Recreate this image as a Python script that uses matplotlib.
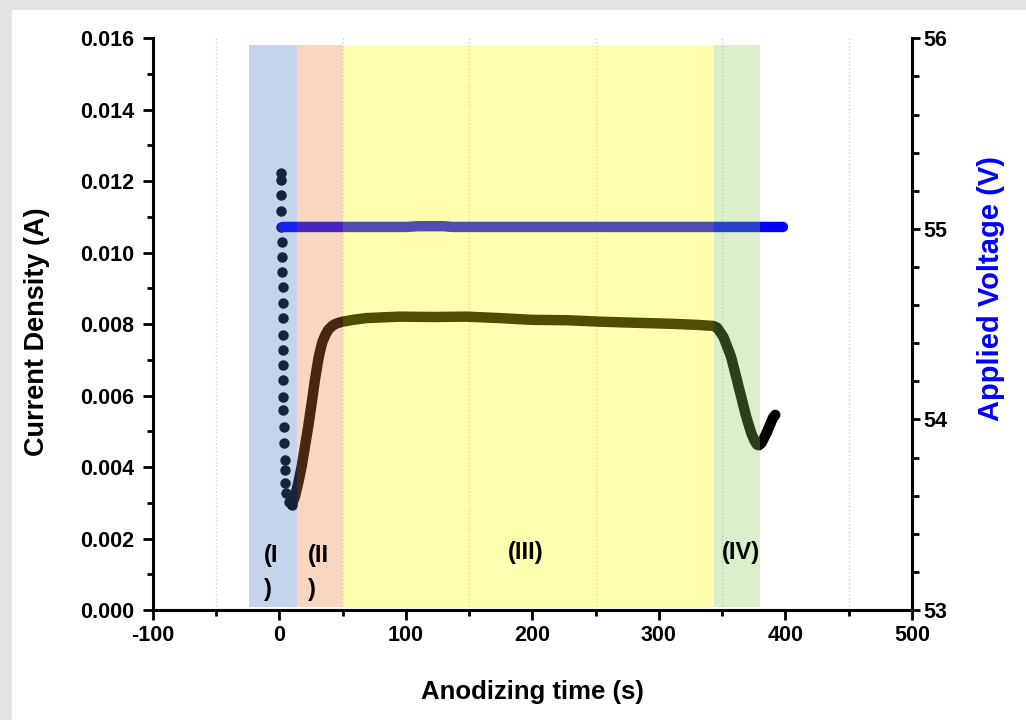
import numpy as np
import matplotlib.pyplot as plt
from matplotlib.patches import Rectangle
from matplotlib.ticker import MultipleLocator


# current density, first fast drop (separate dots)
t_drop = [1.1, 1.1, 1.3, 1.3, 1.7, 2.0, 2.0, 2.3, 2.7, 2.7, 2.9, 2.9, 2.9,
          2.9, 3.0, 3.0, 3.2, 3.5, 4.0, 4.2, 4.8, 4.2, 5.6, 7.4, 10.0]
i_drop = [0.01222, 0.01203, 0.01161, 0.01117, 0.01073, 0.01031, 0.00989,
          0.00947, 0.00905, 0.00858, 0.00816, 0.00770, 0.00728, 0.00686,
          0.00644, 0.00597, 0.00560, 0.00513, 0.00467, 0.00420, 0.00392,
          0.00355, 0.00327, 0.00303, 0.00294]

# current density, rest of the run
t_cur = [10.0, 12.4, 15.0, 17.7, 20.3, 22.9, 25.6, 28.2, 30.8, 32.5, 34.2,
         36.5, 38.7, 41.5, 44.0, 47.0, 50.5, 58, 69, 82, 95, 122, 148, 174,
         200, 227, 253, 280, 310, 330, 343, 346, 348, 351, 353, 357, 361,
         365, 369, 373, 375.5, 377.4, 379, 381, 385, 390, 392]
i_cur = [0.00294, 0.00317, 0.00355, 0.00401, 0.00457, 0.00513, 0.00578,
         0.00644, 0.00700, 0.00728, 0.00751, 0.00770, 0.00784, 0.00794,
         0.00800, 0.00804, 0.00807, 0.00812, 0.00817, 0.00819, 0.00821,
         0.00820, 0.00821, 0.00817, 0.00812, 0.00811, 0.00807, 0.00804,
         0.00801, 0.00798, 0.00795, 0.00790, 0.00780, 0.00764, 0.00746,
         0.00709, 0.00653, 0.00597, 0.00541, 0.00495, 0.00474, 0.00463,
         0.00461, 0.00467, 0.00495, 0.00537, 0.00546]

# applied voltage
t_volt = [3, 20, 40, 60, 80, 100, 110, 120, 130, 137, 150, 175, 200, 225,
          250, 275, 300, 325, 350, 375, 398]
v_volt = [55.01, 55.01, 55.01, 55.01, 55.01, 55.01, 55.014, 55.014, 55.014,
          55.01, 55.01, 55.01, 55.01, 55.01, 55.01, 55.01, 55.01, 55.01,
          55.01, 55.01, 55.01]

# stages
stage_start = [-23.7, 13.7, 50.0, 343.2]
stage_end = [13.7, 50.0, 343.2, 379.5]
stage_col = ['#4472C4', '#ED7D31', '#FFFF00', '#8ECE5E']
stage_txt = ['(I\n)', '(II\n)', '(III)', '(IV)']
stage_x = [-12.4, 23.0, 194.6, 365.0]


def main():
    plt.rcParams['font.family'] = ['Liberation Sans', 'DejaVu Sans']
    plt.rcParams['axes.unicode_minus'] = False

    fig = plt.figure(figsize=(10.26, 7.2), dpi=100)
    # grey card border
    fig.patches.append(Rectangle((0, 0), 1, 1, transform=fig.transFigure,
                                 color='#e2e2e2', zorder=-20))
    fig.patches.append(Rectangle((12 / 1026, 0), 1, 710 / 720,
                                 transform=fig.transFigure, color='white',
                                 zorder=-19))

    ax = fig.add_axes([0.1488, 0.1528, 0.7401, 0.7940])
    ax.patch.set_alpha(0)
    ax2 = ax.twinx()

    ax.plot(t_drop, i_drop, 'o', color='black', ms=6.5, zorder=3)
    ax.plot(t_cur, i_cur, '-', color='black', lw=7.5,
            solid_capstyle='round', solid_joinstyle='round', zorder=3)

    ax2.plot(t_volt, v_volt, '-', color='#0000ff', lw=7.5,
             solid_capstyle='round', zorder=2)

    for x0, x1, c in zip(stage_start, stage_end, stage_col):
        ax2.axvspan(x0, x1, ymin=0.006, ymax=0.988, color=c, alpha=0.31,
                    lw=0, zorder=5)

    for x, s in zip(stage_x, stage_txt):
        two = '\n' in s
        ax2.text(x, 53.197 if two else 53.30, s,
                 ha='left' if two else 'center', va='center',
                 fontsize=17, fontweight='bold', linespacing=1.65, zorder=6)

    ax.set_xlim(-100, 500)
    ax.set_ylim(0, 0.016)
    ax2.set_ylim(53, 56)

    ax.xaxis.set_major_locator(MultipleLocator(100))
    ax.xaxis.set_minor_locator(MultipleLocator(50))
    ax.yaxis.set_major_locator(MultipleLocator(0.002))
    ax.yaxis.set_minor_locator(MultipleLocator(0.001))
    ax.yaxis.set_major_formatter(plt.FormatStrFormatter('%.3f'))
    ax2.yaxis.set_major_locator(MultipleLocator(1))
    ax2.yaxis.set_minor_locator(MultipleLocator(0.2))

    ax.xaxis.grid(True, which='minor', ls=':', color='#cfcfcf', lw=1)
    ax.set_axisbelow(True)

    for a in (ax, ax2):
        a.spines['top'].set_visible(False)
        for sp in a.spines.values():
            sp.set_linewidth(2.2)
    ax.spines['right'].set_visible(False)
    ax2.spines['left'].set_visible(False)
    ax2.spines['bottom'].set_visible(False)

    ax.tick_params(which='major', length=7, width=2, labelsize=15.5, pad=6)
    ax.tick_params(which='minor', length=4, width=2)
    ax.tick_params(axis='x', pad=4)
    ax2.tick_params(which='major', length=6, width=2, labelsize=15.5, pad=2)
    ax2.tick_params(which='minor', length=5, width=2)
    for lab in ax.get_xticklabels() + ax.get_yticklabels() + ax2.get_yticklabels():
        lab.set_fontweight('bold')

    ax.set_ylabel('Current Density (A)', fontsize=19.5, fontweight='bold')
    ax.yaxis.set_label_coords(-0.135, 0.486)
    ax.set_xlabel('Anodizing time (s)', fontsize=18.5, fontweight='bold')
    ax.xaxis.set_label_coords(0.5, -0.122)
    ax2.set_ylabel('Applied Voltage (V)', fontsize=21, fontweight='bold',
                   color='#0000ff')
    ax2.yaxis.set_label_coords(1.086, 0.563)

    fig.savefig('out.png', dpi=100)


if __name__ == "__main__":
    main()
